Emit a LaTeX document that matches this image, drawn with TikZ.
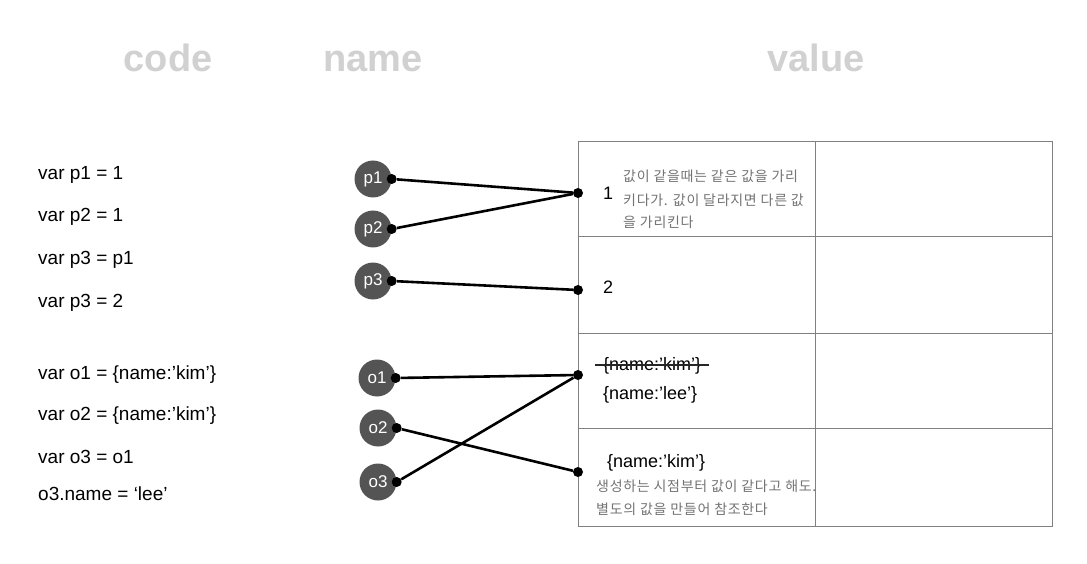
\documentclass[tikz,border=0pt]{standalone}
\usepackage{fontspec}
\setmainfont{Liberation Sans}
\newfontfamily\kofont[LetterSpace=5]{Noto Sans CJK KR}
\begin{document}
\begin{tikzpicture}[x=1pt,y=-1pt,
  hdr/.style={anchor=base,text=black!18,font=\fontsize{38}{40}\selectfont\bfseries},
  codeline/.style={anchor=base west,inner sep=0pt,font=\fontsize{19}{21}\selectfont},
  namecirc/.style={shape=circle,fill=black!67,text=white,inner sep=0pt,minimum size=37pt,font=\fontsize{17}{18}\selectfont},
  dot/.style={shape=circle,fill=black,inner sep=0pt,minimum size=10pt},
  link/.style={line width=2.6pt},
  cell/.style={draw=black!50,line width=1pt},
  val/.style={anchor=base west,inner sep=0pt,font=\fontsize{18}{20}\selectfont},
  note/.style={anchor=base west,inner sep=0pt,text=black!55,font=\kofont\fontsize{14}{15}\selectfont}]
  \useasboundingbox (0,0) rectangle (1087,564);
  % column titles
  \node[hdr] (hcode) at (168,72) {code};
  \node[hdr] (hname) at (373,72) {name};
  \node[hdr] (hvalue) at (816,72) {value};
  % code
  \node[codeline] (c1) at (38,180) {var p1 = 1};
  \node[codeline] (c2) at (38,222) {var p2 = 1};
  \node[codeline] (c3) at (38,265) {var p3 = p1};
  \node[codeline] (c4) at (38,307) {var p3 = 2};
  \node[codeline] (c5) at (38,379) {var o1 = \{name:’kim’\}};
  \node[codeline] (c6) at (38,420) {var o2 = \{name:’kim’\}};
  \node[codeline] (c7) at (38,463) {var o3 = o1};
  \node[codeline] (c8) at (38,500) {o3.name = ‘lee’};
  % value table
  \draw[cell] (578,142) rectangle (1052,526);
  \draw[cell] (815,142) -- (815,526);
  \foreach \y in {237,333,428}
    \draw[cell] (578,\y) -- (1052,\y);
  % names
  \node[namecirc] (p1) at (373,179) {p1};
  \node[namecirc] (p2) at (373,229) {p2};
  \node[namecirc] (p3) at (373,281) {p3};
  \node[namecirc] (o1) at (377,378) {o1};
  \node[namecirc] (o2) at (378,428) {o2};
  \node[namecirc] (o3) at (378,482) {o3};
  \foreach \n in {p1,p2,p3,o1,o2,o3}
    \node[dot] (d\n) at (\n.east) {};
  \node[dot] (v1) at (578,193) {};
  \node[dot] (v2) at (578,290) {};
  \node[dot] (v3) at (578,375) {};
  \node[dot] (v4) at (578,472) {};
  \draw[link] (dp1) -- (v1);
  \draw[link] (dp2) -- (v1);
  \draw[link] (dp3) -- (v2);
  \draw[link] (do1) -- (v3);
  \draw[link] (do2) -- (v4);
  \draw[link] (do3) -- (v3);
  % values
  \node[val] (one) at (603,200) {1};
  \node[note] (n1) at (623,182) {값이 같을때는 같은 값을 가리};
  \node[note] (n2) at (623,206) {키다가. 값이 달라지면 다른 값};
  \node[note] (n3) at (623,228) {을 가리킨다};
  \node[val] (two) at (603,293) {2};
  \node[val] (kimold) at (603,370) {\{name:’kim’\}};
  \draw[line width=1.8pt,black!85] ([xshift=-8pt]kimold.west) -- ([xshift=8pt]kimold.east);
  \node[val] (lee) at (603,399) {\{name:’lee’\}};
  \node[val] (kimnew) at (607,467) {\{name:’kim’\}};
  \node[note] (n4) at (596,491) {생성하는 시점부터 값이 같다고 해도.};
  \node[note] (n5) at (596,514) {별도의 값을 만들어 참조한다};
\end{tikzpicture}
\end{document}
